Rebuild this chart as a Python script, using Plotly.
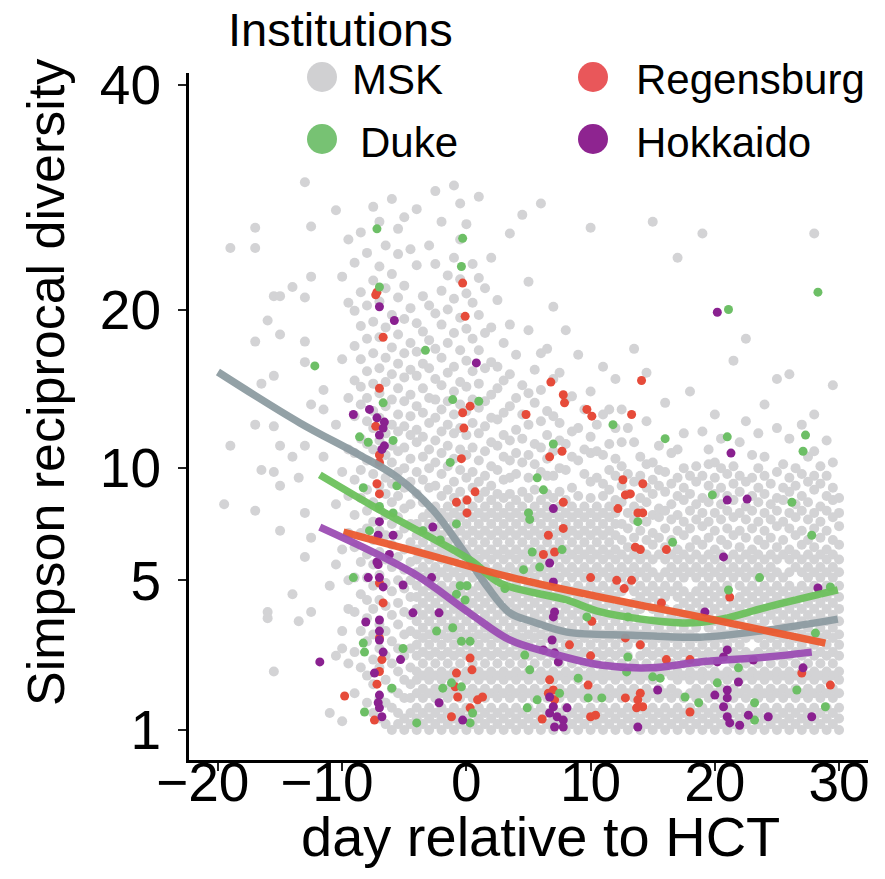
import numpy as np
import plotly.graph_objects as go

# ---------------- data ----------------
# MSK samples, grouped by half-day columns: day -> list of diversity values
msk_col_day = [-19.5, -19.0, -17.0, -16.5, -16.0, -15.5, -15.0, -14.0, -13.5, -13.0, -12.5, -11.5, -11.0, -10.5, -10.0, -9.5,
               -9.0, -8.5, -8.0, -7.5, -7.0, -6.5, -6.0, -5.5, -5.0, -4.5, -4.0, -3.5, -3.0, -2.5, -2.0, -1.5, -1.0, -0.5, 0.0, 0.5,
               1.0, 1.5, 2.0, 2.5, 3.0, 3.5, 4.0, 4.5, 5.0, 5.5, 6.0, 6.5, 7.0, 7.5, 8.0, 8.5, 9.0, 9.5, 10.0, 10.5, 11.0, 11.5, 12.0,
               12.5, 13.0, 13.5, 14.0, 14.5, 15.0, 15.5, 16.0, 16.5, 17.0, 17.5, 18.0, 18.5, 19.0, 19.5, 20.0, 20.5, 21.0, 21.5,
               22.0, 22.5, 23.0, 23.5, 24.0, 24.5, 25.0, 25.5, 26.0, 26.5, 27.0, 27.5, 28.0, 28.5, 29.0, 29.5, 30.0]
msk_col_div = [
    [8.2], [24.8, 11.2], [26.5, 24.8, 17.7, 12.4, 7.9], [14.9, 9.9], [19.2, 3.9, 3.7],
    [21.0, 15.4, 12.3, 9.8, 2.2], [21.0, 18.2, 11.2, 9.1, 7.0], [21.7, 10.6, 4.5], [9.5, 3.6],
    [30.5, 20.9, 17.7, 16.3, 11.2, 7.8, 5.9], [26.6, 22.5, 13.6, 6.7, 3.9], [14.5, 13.3, 10.6], [1.3, 4.8],
    [28, 12.4, 8.2, 5.6, 2.6], [22.5, 16.5, 9.8, 6.2, 3.3, 2.8, 1.15], [25.5, 20.5, 14.0, 11.0, 8.6, 6.9, 5.0, 4.0, 2.4],
    # days -9 .. -4.5
    [1.7, 2.7, 3.9, 5.1, 6.3, 7.7, 9.4, 10.8, 12.9, 15.1, 17.4, 19.9, 23.6],
    [2.3, 3.3, 4.5, 5.7, 6.9, 8.5, 9.9, 11.6, 13.6, 14.7, 16.5, 18.8, 21.3, 26.1],
    [1.5, 2.1, 3.0, 3.7, 4.3, 5.1, 6.0, 7.1, 7.9, 8.9, 10.4, 11.3, 12.6, 14.0, 15.7, 17.9, 20.3, 24.4],
    [1.3, 1.9, 2.5, 3.2, 4.0, 4.8, 5.6, 6.6, 7.4, 8.3, 9.7, 11.0, 12.2, 13.2, 14.9, 16.9, 19.1, 22.2, 28.3],
    [1.2, 1.6, 2.3, 2.8, 3.5, 4.3, 5.2, 6.1, 7.0, 8.0, 9.1, 10.2, 11.5, 12.8, 14.3, 15.9, 18.0, 20.6, 23.3, 27.0],
    [1.1, 1.5, 2.0, 2.6, 3.3, 4.1, 4.9, 5.8, 6.8, 7.7, 8.7, 9.5, 10.7, 11.9, 13.5, 15.0, 16.6, 18.7, 21.6, 25.0],
    [1.0, 1.4, 1.8, 2.4, 3.0, 3.8, 4.6, 5.5, 6.4, 7.3, 8.3, 9.2, 10.3, 11.2, 12.4, 13.9, 15.5, 17.3, 19.6, 22.7, 29.0],
    [1.1, 1.3, 1.7, 2.2, 2.8, 3.5, 4.2, 5.0, 5.9, 6.8, 7.6, 8.6, 9.8, 10.9, 12.0, 13.0, 14.6, 16.2, 18.2, 20.9, 24.3, 26.4],
    [1.0, 1.2, 1.6, 2.0, 2.6, 3.2, 3.9, 4.7, 5.4, 6.2, 7.1, 8.0, 9.0, 10.0, 11.1, 12.3, 13.8, 15.3, 16.9, 19.3, 21.8, 27.4],
    [1.1, 1.3, 1.6, 1.9, 2.3, 2.8, 3.3, 3.8, 4.4, 5.0, 5.7, 6.5, 7.3, 8.2, 9.3, 10.5, 11.8, 12.9, 14.2, 15.8, 17.6, 20.1, 24.7],
    # days -4 .. 0.5
    [1, 1.2, 1.4, 1.7, 2, 2.2, 2.6, 2.9, 3.2, 3.6, 4, 4.4, 4.8, 5.3, 5.8, 6.2, 6.8, 7.3, 8.7, 9.8, 11.4, 12.1, 13.5, 15.4, 17.0, 19.0, 23.4, 28.1],
    [1.1, 1.3, 1.6, 1.8, 2.1, 2.4, 2.7, 3.1, 3.4, 3.8, 4.2, 4.6, 5.1, 5.5, 6, 6.5, 7, 7.6, 8.3, 9.4, 10.6, 11.7, 13.1, 14.6, 16.2, 18.4, 21.0],
    [1, 1.2, 1.4, 1.7, 2, 2.2, 2.6, 2.9, 3.2, 3.6, 4, 4.4, 4.8, 5.3, 5.8, 6.2, 6.8, 7.3, 7.8, 9.0, 10.0, 11.0, 12.5, 14.0, 15.9, 17.8, 20.3, 25.0],
    [1.1, 1.3, 1.6, 1.8, 2.1, 2.4, 2.7, 3.1, 3.4, 3.8, 4.2, 4.6, 5.1, 5.5, 6, 6.5, 7, 7.6, 8.1, 9.1, 10.3, 11.5, 12.8, 13.9, 15.2, 17.2, 19.7, 23.5, 29.7],
    [1, 1.2, 1.4, 1.7, 2, 2.2, 2.6, 2.9, 3.2, 3.6, 4, 4.4, 4.8, 5.3, 5.8, 6.2, 6.8, 7.3, 7.8, 8.6, 9.7, 10.8, 12.0, 13.3, 14.8, 16.6, 18.9, 21.4, 27.0],
    [1.1, 1.3, 1.6, 1.8, 2.1, 2.4, 2.7, 3.1, 3.4, 3.8, 4.2, 4.6, 5.1, 5.5, 6, 6.5, 7, 7.6, 8.1, 8.9, 10.1, 11.2, 12.4, 13.8, 15.6, 17.6, 20.0, 22.6],
    [1, 1.2, 1.4, 1.7, 2, 2.2, 2.6, 2.9, 3.2, 3.6, 4, 4.4, 4.8, 5.3, 5.8, 6.2, 6.8, 7.3, 7.8, 8.5, 9.3, 10.5, 11.9, 13.0, 14.4, 16.0, 18.3, 20.8, 24.0, 30.2],
    [1.1, 1.3, 1.6, 1.8, 2.1, 2.4, 2.7, 3.1, 3.4, 3.8, 4.2, 4.6, 5.1, 5.5, 6, 6.5, 7, 7.6, 8.1, 8.8, 9.9, 11.0, 12.2, 13.6, 15.0, 17.1, 19.4, 22.3, 25.5, 28.6],
    [1, 1.2, 1.4, 1.7, 2, 2.2, 2.6, 2.9, 3.2, 3.6, 4, 4.4, 4.8, 5.3, 5.8, 6.2, 6.8, 7.3, 7.8, 8.4, 9.5, 10.7, 11.8, 13.2, 14.7, 16.4, 18.6, 21.2, 26.8],
    [1.1, 1.3, 1.6, 1.8, 2.1, 2.4, 2.7, 3.1, 3.4, 3.8, 4.2, 4.6, 5.1, 5.5, 6, 6.5, 7, 7.6, 8.1, 9.0, 9.8, 11.1, 12.5, 13.9, 15.7, 17.9, 20.5, 23.5],
    # days 1 .. 12
    [1, 1.2, 1.4, 1.7, 2, 2.2, 2.6, 2.9, 3.2, 3.6, 4, 4.4, 4.8, 5.3, 5.8, 6.2, 6.8, 7.3, 7.8, 8.5, 9.3, 10.4, 11.9, 13.4, 14.9, 17.1, 19.6, 22.4, 29.2],
    [1.1, 1.3, 1.6, 1.8, 2.1, 2.4, 2.7, 3.1, 3.4, 3.8, 4.2, 4.6, 5.1, 5.5, 6, 6.5, 7, 7.6, 8.1, 8.8, 9.6, 10.9, 12.3, 13.8, 15.9, 18.3, 21.6],
    [1, 1.2, 1.4, 1.7, 2, 2.2, 2.6, 2.9, 3.2, 3.6, 4, 4.4, 4.8, 5.3, 5.8, 6.2, 6.8, 7.3, 7.8, 8.4, 9.1, 10.1, 11.4, 12.8, 14.2, 16.3, 18.7, 24],
    [1.1, 1.3, 1.6, 1.8, 2.1, 2.4, 2.7, 3.1, 3.4, 3.8, 4.2, 4.6, 5.1, 5.5, 6, 6.5, 7, 7.6, 8.1, 8.7, 9.9, 11.2, 12.7, 14.6, 16.0, 20.7],
    [1, 1.2, 1.4, 1.7, 2, 2.2, 2.6, 2.9, 3.2, 3.6, 4, 4.4, 4.8, 5.3, 5.8, 6.2, 6.8, 7.3, 7.8, 8.5, 9.4, 10.6, 11.8, 13.1, 15.1, 17.6],
    [1.1, 1.3, 1.6, 1.8, 2.1, 2.4, 2.7, 3.1, 3.4, 3.8, 4.2, 4.6, 5.1, 5.5, 6, 6.5, 7, 7.6, 8.1, 8.7, 9.5, 10.4, 11.5, 13.5, 15.5, 18.9, 26],
    [1, 1.2, 1.4, 1.7, 2, 2.2, 2.6, 2.9, 3.2, 3.6, 4, 4.4, 4.8, 5.3, 5.8, 6.2, 6.8, 7.3, 7.8, 8.4, 9.7, 10.8, 12.1, 14.0, 16.8],
    [1.1, 1.3, 1.6, 1.8, 2.1, 2.4, 2.7, 3.1, 3.4, 3.8, 4.2, 4.6, 5.1, 5.5, 6, 6.5, 7, 7.6, 8.1, 8.8, 10.3, 11.6, 13.0, 14.8, 27.6],
    [1, 1.2, 1.4, 1.7, 2, 2.2, 2.6, 2.9, 3.2, 3.6, 4, 4.4, 4.8, 5.3, 5.8, 6.2, 6.8, 7.3, 7.8, 8.5, 9.5, 10.7, 12.4, 14.3, 18.5, 22.1],
    [1.1, 1.3, 1.6, 1.8, 2.1, 2.4, 2.7, 3.1, 3.4, 3.8, 4.2, 4.6, 5.1, 5.5, 6, 6.5, 7, 7.6, 8.1, 8.9, 10.2, 11.3, 13.7, 15.8],
    [1, 1.2, 1.4, 1.7, 2, 2.2, 2.6, 2.9, 3.2, 3.6, 4, 4.4, 4.8, 5.3, 5.8, 6.2, 6.8, 7.3, 7.8, 8.4, 9.8, 11.1, 12.6, 14.5, 16.9, 28.6],
    [1.1, 1.3, 1.6, 1.8, 2.1, 2.4, 2.7, 3.1, 3.4, 3.8, 4.2, 4.6, 5.1, 5.5, 6, 6.5, 7, 7.6, 8.1, 8.7, 9.6, 10.5, 11.8, 13.2, 17.2],
    [1, 1.2, 1.4, 1.7, 2, 2.2, 2.6, 2.9, 3.2, 3.6, 4, 4.4, 4.8, 5.3, 5.8, 6.2, 6.8, 7.3, 7.8, 8.5, 9.6, 10.9, 12.9, 15.2, 20.2],
    [1.1, 1.3, 1.6, 1.8, 2.1, 2.4, 2.7, 3.1, 3.4, 3.8, 4.2, 4.6, 5.1, 5.5, 6, 6.5, 7, 7.6, 8.1, 8.8, 10.0, 11.5, 12.5, 15.6],
    [1, 1.2, 1.4, 1.7, 2, 2.2, 2.6, 2.9, 3.2, 3.6, 4, 4.4, 4.8, 5.3, 5.8, 6.2, 6.8, 7.3, 7.8, 8.4, 9.9, 11.3, 13.9, 18.5],
    [1.1, 1.3, 1.6, 1.8, 2.1, 2.4, 2.7, 3.1, 3.4, 3.8, 4.2, 4.6, 5.1, 5.5, 6, 6.5, 7, 7.6, 8.1, 9.0, 10.6, 12.0, 14.1],
    [1, 1.2, 1.4, 1.7, 2, 2.2, 2.6, 2.9, 3.2, 3.6, 4, 4.4, 4.8, 5.3, 5.8, 6.2, 6.8, 7.3, 7.8, 8.6, 10.4, 12.2, 16.8],
    [1.1, 1.3, 1.6, 1.8, 2.1, 2.4, 2.7, 3.1, 3.4, 3.8, 4.2, 4.6, 5.1, 5.5, 6, 6.5, 7, 7.6, 8.1, 9.7, 11.0, 13.3],
    [1, 1.2, 1.4, 1.7, 2, 2.2, 2.6, 2.9, 3.2, 3.6, 4, 4.4, 4.8, 5.3, 5.8, 6.2, 6.8, 7.3, 7.8, 8.5, 9.3, 10.8, 11.7, 14.4, 26.5],
    [1.1, 1.3, 1.6, 1.8, 2.1, 2.4, 2.7, 3.1, 3.4, 3.8, 4.2, 4.6, 5.1, 5.5, 6, 6.5, 7, 7.6, 8.1, 9.5, 10.9, 12.4],
    [1, 1.2, 1.4, 1.7, 2, 2.2, 2.6, 2.9, 3.2, 3.6, 4, 4.4, 4.8, 5.3, 5.8, 6.2, 6.8, 7.3, 7.8, 8.6, 9.2, 10.7, 13.0, 16.0],
    [1.1, 1.3, 1.6, 1.8, 2.1, 2.4, 2.7, 3.1, 3.4, 3.8, 4.2, 4.6, 5.1, 5.5, 6, 6.5, 7, 7.6, 8.1, 8.9, 9.9, 11.3, 13.3],
    [1, 1.2, 1.4, 1.7, 2, 2.2, 2.6, 2.9, 3.2, 3.6, 4, 4.4, 4.8, 5.3, 5.8, 6.2, 6.8, 7.3, 7.8, 8.4, 9.6, 10.5, 12.2, 15.2],
    # days 12.5 .. 30
    [1.1, 1.3, 1.6, 1.8, 2.1, 2.4, 2.7, 3.1, 3.4, 3.8, 4.2, 4.6, 5.1, 5.5, 6, 6.6, 7.3, 8.3, 9.1, 10.1, 11.4, 13.3],
    [1, 1.2, 1.4, 1.7, 2, 2.2, 2.6, 2.9, 3.2, 3.6, 4, 4.8, 5.3, 5.8, 6.3, 7.1, 7.8, 8.7, 9.7, 12.2],
    [1.1, 1.3, 1.6, 1.8, 2.1, 2.4, 3.1, 3.4, 3.8, 4.2, 4.6, 5.1, 5.5, 6, 6.7, 7.5, 8.1, 9.3, 11.4, 17.2],
    [1, 1.2, 1.4, 1.7, 2, 2.2, 2.6, 2.9, 3.2, 3.6, 4, 4.4, 4.8, 5.3, 5.8, 6.2, 7.0, 7.9, 8.5, 9.6, 10.6],
    [1.1, 1.3, 1.6, 1.8, 2.1, 2.4, 2.7, 3.1, 3.4, 4.2, 4.6, 5.1, 5.5, 6, 6.6, 7.4, 8.3, 9.0, 10.2, 12.6, 15.6],
    [1, 1.2, 1.4, 1.7, 2, 2.2, 2.6, 2.9, 3.2, 3.6, 4, 4.4, 4.8, 5.3, 5.8, 6.4, 6.9, 7.7, 8.7, 9.4, 10.3, 27],
    [1.1, 1.3, 1.6, 1.8, 2.1, 2.4, 2.7, 3.1, 3.4, 3.8, 4.2, 4.6, 5.1, 6, 6.7, 7.6, 8.0, 9.1, 9.9, 11.2],
    [1, 1.2, 1.4, 1.7, 2.2, 2.6, 2.9, 3.2, 3.6, 4, 4.4, 4.8, 5.3, 5.8, 6.3, 7.1, 7.9, 8.8, 9.8, 13.7],
    [1.1, 1.3, 1.6, 1.8, 2.1, 2.4, 2.7, 3.1, 3.4, 3.8, 4.6, 5.1, 5.5, 6, 6.6, 7.5, 8.2, 9.2, 10.8],
    [1, 1.2, 1.4, 1.7, 2, 2.2, 2.6, 2.9, 3.2, 3.6, 4, 4.4, 4.8, 5.3, 5.8, 6.2, 7.0, 7.7, 8.6, 9.5, 11.0, 24],
    [1.1, 1.3, 1.6, 2.1, 2.4, 2.7, 3.1, 3.4, 3.8, 4.2, 4.6, 5.1, 5.5, 6, 6.8, 7.4, 8.4, 9.0, 10.0, 11.9],
    [1, 1.2, 1.4, 1.7, 2, 2.2, 2.6, 2.9, 3.2, 3.6, 4, 4.4, 5.3, 5.8, 6.3, 7.1, 7.9, 8.7, 9.6, 14.4],
    [1.1, 1.3, 1.6, 1.8, 2.1, 2.4, 2.7, 3.1, 3.4, 3.8, 4.2, 4.6, 5.1, 5.5, 6, 6.6, 7.5, 8.2, 9.3, 10.1],
    [1, 1.2, 1.4, 1.7, 2, 2.2, 2.6, 2.9, 3.6, 4, 4.4, 4.8, 5.3, 5.8, 6.4, 7.2, 7.8, 8.5, 9.6, 12.0, 26],
    [1.1, 1.3, 1.6, 1.8, 2.1, 2.4, 2.7, 3.1, 3.4, 3.8, 4.2, 4.6, 5.1, 5.5, 6, 6.7, 7.4, 8.3, 9.1, 10.2, 11.0],
    [1, 1.2, 1.4, 1.7, 2, 2.2, 2.6, 2.9, 3.2, 3.6, 4, 4.4, 4.8, 5.3, 5.8, 6.2, 7.0, 7.8, 8.7, 9.5, 10.3, 13.0],
    [1.1, 1.3, 1.6, 1.8, 2.1, 2.7, 3.1, 3.4, 3.8, 4.2, 4.6, 5.1, 5.5, 6, 6.6, 7.5, 8.2, 9.0, 10.0, 11.6],
    [1, 1.2, 1.4, 1.7, 2, 2.2, 2.6, 2.9, 3.2, 3.6, 4, 4.4, 4.8, 5.3, 5.8, 6.4, 7.1, 7.9, 8.6, 9.7],
    [1.1, 1.3, 1.6, 1.8, 2.1, 2.4, 2.7, 3.1, 3.4, 3.8, 4.2, 5.1, 5.5, 6, 6.8, 7.6, 8.4, 9.2, 10.1, 16.4],
    [1, 1.2, 1.4, 1.7, 2, 2.2, 2.6, 2.9, 3.2, 3.6, 4, 4.4, 4.8, 5.3, 5.8, 6.3, 7.0, 7.8, 8.8, 9.6, 11.4],
    [1.1, 1.3, 1.6, 1.8, 2.1, 2.4, 2.7, 3.1, 3.4, 3.8, 4.2, 4.6, 5.1, 5.5, 6, 6.7, 7.5, 8.1, 9.3, 12.6, 17.9],
    [1, 1.2, 1.4, 1.7, 2, 2.2, 2.6, 3.2, 3.6, 4, 4.4, 4.8, 5.3, 5.8, 6.2, 7.1, 7.9, 8.6, 9.5, 10.7],
    [1.1, 1.3, 1.6, 1.8, 2.1, 2.4, 2.7, 3.1, 3.4, 3.8, 4.2, 4.6, 5.1, 5.5, 6, 6.6, 7.4, 8.3, 9.0, 10.0, 11.9],
    [1, 1.2, 1.4, 1.7, 2, 2.2, 2.6, 2.9, 3.2, 3.6, 4, 4.4, 4.8, 5.3, 5.8, 6.4, 7.0, 7.8, 8.7, 9.6, 10.6, 13.6],
    [1.1, 1.3, 1.6, 1.8, 2.1, 2.4, 2.7, 3.1, 3.8, 4.2, 4.6, 5.1, 5.5, 6, 6.7, 7.5, 8.2, 9.2],
    [1, 1.2, 1.4, 1.7, 2, 2.2, 2.6, 2.9, 3.2, 3.6, 4, 4.4, 4.8, 5.3, 5.8, 6.3, 7.2, 7.9, 8.5, 9.8, 12.2, 15.2],
    [1.1, 1.3, 1.6, 1.8, 2.1, 2.4, 2.7, 3.1, 3.4, 3.8, 4.2, 4.6, 5.1, 6, 6.6, 7.4, 8.4, 9.0, 10.2],
    [1, 1.2, 1.4, 1.7, 2, 2.2, 2.6, 2.9, 3.2, 3.6, 4, 4.4, 4.8, 5.3, 5.8, 6.2, 7.1, 7.8, 8.8, 9.5, 11.6, 15.5],
    [1.1, 1.3, 1.6, 1.8, 2.1, 2.4, 2.7, 3.1, 3.4, 3.8, 4.2, 4.6, 5.5, 6, 6.8, 7.6, 8.2, 9.1, 10.0],
    [1, 1.2, 1.4, 1.7, 2, 2.2, 2.6, 2.9, 3.2, 3.6, 4, 4.4, 4.8, 5.3, 5.8, 6.4, 7.0, 7.9, 8.6, 9.7, 12.4],
    [1.1, 1.3, 1.6, 1.8, 2.1, 2.4, 2.7, 3.1, 3.4, 3.8, 4.2, 4.6, 5.1, 5.5, 6, 6.6, 7.5, 8.3, 9.3, 10.6],
    [1, 1.2, 1.4, 1.7, 2, 2.2, 2.6, 2.9, 3.2, 3.6, 4, 4.4, 4.8, 5.3, 5.8, 6.3, 7.1, 7.8, 8.9, 9.6, 10.9, 13.0, 26],
    [1.1, 1.3, 1.6, 1.8, 2.1, 2.4, 2.7, 3.1, 3.4, 3.8, 4.2, 4.6, 5.1, 5.5, 6, 6.7, 7.4, 8.1, 9.2, 10.1],
    [1, 1.2, 1.4, 1.7, 2, 2.2, 2.6, 2.9, 3.2, 3.6, 4, 4.4, 4.8, 5.3, 5.8, 6.2, 7.0, 7.9, 8.6, 9.6, 11.5],
    [1.1, 1.3, 1.6, 1.8, 2.1, 2.4, 2.7, 3.1, 3.4, 3.8, 4.2, 4.6, 5.1, 5.5, 6, 6.6, 7.6, 8.4, 9.0, 10.3, 14.8],
    [1, 1.2, 1.4, 1.7, 2, 2.2, 2.6, 2.9, 3.2, 3.6, 4, 4.4, 4.8, 5.3, 5.8, 6.4, 7.2, 7.8, 8.5],
]

# Regensburg samples
reg_day = [-7.2, -7.3, -6.7, -7.0, -7.3, -7.0, -7.0, -7.2, -7.0, -7.0, -6.7, -7.0, -6.8, -7.0, -7.2, -7.4, -9.8,
           -0.3, -0.1, -0.3, 0.3, -0.2, -0.4, -0.8, 0.05, 0.7, 0.05, 0.3, 0.45, -0.8, -0.9, -0.7, 1.3, 0.9, -1.2, 0.3,
           6.8, 7.8, 7.9, 9.7, 10.1, 4.8, 13.3, 14.1, 7.7, 6.7, 7.8, 7.8, 6.6, 6.2, 7.1,
           12.6, 14.2, 12.8, 13.2, 12.2, 13.8, 14.2, 13.6, 14.0, 16.1, 10.0, 12.1, 12.7, 13.3, 15.7,
           10.1, 8.3, 10.0, 12.8, 14.0, 16.1, 18.0, 21.2,
           6.7, 7.0, 6.6, 7.1, 6.1, 9.8, 10.0, 10.4, 12.8, 14.0, 13.8, 14.2, 13.7, 18.0, 27.0, 29.3]
reg_div = [21.3, 21.1, 18.0, 14.6, 12.3, 10.7, 10.3, 9.2, 8.7, 4.9, 4.2, 3.1, 2.5, 2.2, 1.9, 1.17, 1.64,
           22.0, 19.5, 13.1, 13.5, 12.2, 10.5, 8.3, 8.4, 8.8, 7.8, 2.54, 2.24, 2.16, 1.84, 1.62, 1.62, 1.56, 1.23, 1.40,
           15.0, 14.2, 13.7, 13.3, 12.9, 13.0, 13.0, 15.1, 10.9, 10.6, 8.3, 7.1, 6.8, 6.0, 6.1,
           9.4, 9.2, 8.65, 8.7, 8.0, 7.8, 7.8, 6.3, 6.2, 6.2, 5.1, 5.0, 4.7, 5.0, 4.2,
           3.6, 2.9, 2.6, 3.1, 2.9, 2.5, 2.5, 4.4,
           2.0, 1.77, 1.70, 1.56, 1.19, 1.88, 1.23, 1.26, 1.60, 1.70, 1.56, 1.42, 1.40, 1.32, 2.16, 1.88]

# Duke samples
duke_day = [-7.2, -0.3, -0.4, -7.0, -3.3, -12.2, -1.1, -6.7, -8.6, -7.9,
            -5.9, -1.3, 1.0, -8.3, -5.6, -7.0, -5.9, -7.8, -9.1, -3.5,
            -2.1, -0.8, -0.5, 0.05, -0.8, -0.1, -2.4, -1.1, -0.4, 0.3,
            -8.3, -8.2, -5.1, -6.0, -8.2, -4.0, -1.9, -1.2, -0.4, 0.3,
            0.5, 3.1, 28.3, 21.1, 11.8, 16.0, 7.0, 21.0, 27.3, 27.1,
            5.7, 6.2, 5.0, 5.1, 5.3, 4.6, 5.9, 7.7, 13.8, 16.6,
            19.8, 26.2, 27.8, 23.6, 21.1, 29.3, 28.1, 9.7, 13.0, 4.7,
            5.1, 9.0, 5.7, 4.9, 9.8, 10.9, 12.9, 15.6, 15.0, 17.6,
            18.7, 20.2, 21.9, 23.2, 23.2, 26.6, 28.9, 13.0, 7.5]
duke_div = [26.4, 25.6, 23.3, 21.7, 17.1, 16.05, 13.9, 13.7, 11.7, 11.4,
            11.5, 10.3, 13.8, 9.0, 9.1, 8.1, 7.8, 7.0, 5.1, 7.0,
            6.6, 7.3, 4.8, 4.8, 4.5, 4.3, 3.3, 3.4, 3.0, 3.0,
            2.95, 2.7, 2.8, 1.81, 1.32, 1.12, 1.81, 1.93, 1.84, 1.12,
            1.30, 4.7, 21.3, 20.0, 12.4, 11.6, 11.3, 11.7, 11.8, 10.9,
            9.5, 8.9, 7.8, 7.5, 6.1, 5.4, 5.5, 6.2, 7.4, 6.5,
            8.65, 8.3, 6.8, 5.1, 4.65, 4.76, 3.24, 3.74, 3.74, 2.62,
            2.24, 2.04, 1.56, 1.40, 1.60, 1.60, 2.19, 2.04, 2.07, 1.62,
            1.50, 1.93, 2.29, 1.50, 1.17, 1.77, 1.42, 2.57, 1.70]

# Hokkaido samples
hok_day = [-7.0, -5.8, 0.8, -9.1, -7.8, -7.2, -6.6, -6.7, -7.0, -6.6,
           -6.8, 20.2, 21.3, -7.0, -7.1, -5.9, -6.2, -7.2, -7.1, -7.9,
           -7.0, -6.7, -5.1, -2.8, -2.7, -4.3, -2.2, -8.1, -7.0, -7.0,
           -7.0, -6.7, -5.3, -11.8, -7.4, -7.0, -7.1, -7.0, -6.8, -2.2,
           -0.3, 7.0, 6.7, 7.0, 7.1, 7.0, 6.9, 6.2, 7.1, 7.4,
           21.0, 22.6, 20.7, 19.2, 21.0, 20.7, 20.2, 23.1, 28.3, 27.1,
           21.9, 21.0, 20.0, 21.0, 20.7, 21.0, 21.2, 22.0, 22.7, 24.3,
           27.8, 15.4, 13.8, 6.7, 7.0, 6.7, 7.3, 7.8, 7.1, 8.1,
           7.8]
hok_div = [20.2, 19.2, 16.25, 13.0, 13.3, 12.8, 12.55, 12.2, 11.8, 11.2,
           11.0, 19.8, 10.8, 7.4, 6.8, 6.8, 6.0, 5.7, 5.6, 5.1,
           5.1, 4.76, 4.83, 5.1, 7.16, 3.87, 3.87, 3.58, 3.64, 3.3,
           3.04, 2.7, 2.5, 2.44, 2.16, 1.66, 1.50, 1.40, 1.23, 1.50,
           1.17, 8.0, 5.66, 4.94, 3.90, 3.74, 3.04, 2.76, 2.68, 2.44,
           8.4, 8.45, 5.9, 3.9, 2.76, 2.57, 2.44, 2.49, 4.72, 2.29,
           1.95, 1.77, 1.66, 1.60, 1.42, 1.23, 1.12, 1.08, 1.26, 1.23,
           1.23, 1.77, 1.05, 1.62, 1.42, 1.30, 1.23, 1.17, 1.05, 1.40,
           1.05]

# smoothed trend per institution
msk_fit_day = [-20, -13.4, -8.6, -5.6, -2.7, -0.3, 1.7, 3.5, 5.4, 8.1, 13.4, 18.8, 24.2, 29.9]
msk_fit_div = [15.65, 12.5, 10.7, 9.54, 7.94, 6.18, 4.76, 3.87, 3.58, 3.27, 3.18, 3.12, 3.33, 3.67]
duke_fit_day = [-11.8, -7.0, 0.3, 2.7, 8.1, 10.8, 17.4, 20.2, 24.2, 29.9]
duke_fit_div = [9.65, 7.94, 5.78, 4.90, 4.30, 3.90, 3.55, 3.64, 4.06, 4.65]
reg_fit_day = [-9.9, -4.3, 3.5, 10.8, 18.8, 28.9]
reg_fit_div = [6.94, 6.16, 5.12, 4.40, 3.74, 2.95]
hok_fit_day = [-11.8, -4.3, 0.3, 3.5, 6.7, 10.8, 14.8, 18.8, 24.2, 27.8]
hok_fit_div = [7.16, 5.27, 3.85, 3.04, 2.68, 2.36, 2.29, 2.44, 2.57, 2.70]

institutions = ["MSK", "Regensburg", "Duke", "Hokkaido"]
y_tick_vals = [1, 5, 10, 20, 40]
y_tick_text = ["1", "5", "10", "20", "40"]
x_tick_vals = [-20, -10, 0, 10, 20, 30]
x_tick_text = ["\u221220\u00a0\u00a0", "\u221210\u00a0\u00a0", "0", "10", "20", "30"]

# ---------------- figure ----------------
FONT = "Liberation Sans, Arial, Helvetica, sans-serif"
pt_col = {"MSK": "#d3d3d5", "Regensburg": "#e64b3a", "Duke": "#6dbf66", "Hokkaido": "#8a2190"}
ln_col = {"MSK": "#8e9ca2", "Regensburg": "#ec5a30", "Duke": "#6cc15c", "Hokkaido": "#9c4eb4"}
leg_col = {"MSK": "#d0d0d2", "Regensburg": "#e9575a", "Duke": "#77c273", "Hokkaido": "#8e2490"}

msk_x = [d for d, col in zip(msk_col_day, msk_col_div) for _ in col]
msk_y = [v for d, col in zip(msk_col_day, msk_col_div) for v in col]

def sq(a):
    return np.sqrt(np.asarray(a, dtype=float))

fig = go.Figure()
fig.add_trace(go.Scatter(x=msk_x, y=sq(msk_y), mode="markers",
                         marker=dict(size=10, color=pt_col["MSK"], line=dict(width=0)), name="MSK"))
for nm, dx, dy in [("Regensburg", reg_day, reg_div), ("Duke", duke_day, duke_div), ("Hokkaido", hok_day, hok_div)]:
    fig.add_trace(go.Scatter(x=dx, y=sq(dy), mode="markers",
                             marker=dict(size=9, color=pt_col[nm], line=dict(width=0)), name=nm))
for nm, dx, dy in [("MSK", msk_fit_day, msk_fit_div), ("Duke", duke_fit_day, duke_fit_div),
                   ("Regensburg", reg_fit_day, reg_fit_div), ("Hokkaido", hok_fit_day, hok_fit_div)]:
    fig.add_trace(go.Scatter(x=dx, y=sq(dy), mode="lines",
                             line=dict(color=ln_col[nm], width=7.5, shape="spline", smoothing=1.0),
                             opacity=0.95, name=nm + " fit"))

L, R, T, B = 189, 17, 73, 119
W, H = 885, 879
pw, ph = W - L - R, H - T - B

def px(xp):
    return (xp - L) / pw

def py(yp):
    return (H - B - yp) / ph

fig.update_layout(
    width=W, height=H, margin=dict(l=L, r=R, t=T, b=B, autoexpand=False),
    plot_bgcolor="white", paper_bgcolor="white", showlegend=False,
    font=dict(family=FONT, color="black"),
    xaxis=dict(range=[-22.33, 32.33], tickvals=x_tick_vals, ticktext=x_tick_text,
               ticks="outside", ticklen=8, tickwidth=2, tickcolor="#222", tickangle=0,
               showline=True, linewidth=3, linecolor="black", showgrid=False, zeroline=False,
               ticklabelstandoff=-36, automargin=False,
               tickfont=dict(size=55, family=FONT, color="black")),
    yaxis=dict(range=[0.7523, 6.425], tickvals=list(sq(y_tick_vals)), ticktext=y_tick_text,
               ticks="outside", ticklen=8, tickwidth=2, tickcolor="#222",
               showline=True, linewidth=3, linecolor="black", showgrid=False, zeroline=False,
               ticklabelstandoff=6, automargin=False,
               tickfont=dict(size=55, family=FONT, color="black")),
)

ann = [
    dict(text="day relative to HCT", x=px(540), y=py(836), xref="paper", yref="paper",
         showarrow=False, xanchor="center", yanchor="middle", font=dict(size=56, family=FONT, color="black")),
    dict(text="Simpson reciprocal diversity", x=px(46), y=py(383), xref="paper", yref="paper",
         showarrow=False, xanchor="center", yanchor="middle", textangle=-90,
         font=dict(size=52, family=FONT, color="black")),
    dict(text="Institutions", x=px(226), y=py(29), xref="paper", yref="paper",
         showarrow=False, xanchor="left", yanchor="middle", font=dict(size=47, family=FONT, color="black")),
]
shapes = []
leg_pos = {"MSK": (322, 77, 350), "Regensburg": (593, 77, 634), "Duke": (322, 139, 358), "Hokkaido": (593, 139, 634)}
for nm in institutions:
    cx, cy, tx = leg_pos[nm]
    shapes.append(dict(type="circle", xref="paper", yref="paper", xsizemode="pixel", ysizemode="pixel",
                       xanchor=px(cx), yanchor=py(cy), x0=-15, x1=15, y0=-15, y1=15,
                       fillcolor=leg_col[nm], line=dict(width=0), layer="above"))
    ann.append(dict(text=nm, x=px(tx), y=py(cy + 3), xref="paper", yref="paper", showarrow=False,
                    xanchor="left", yanchor="middle", font=dict(size=42, family=FONT, color="black")))
fig.update_layout(annotations=ann, shapes=shapes)

fig.write_html("out.html", config={"displayModeBar": False},
               post_script="document.body.style.margin='0px';")
